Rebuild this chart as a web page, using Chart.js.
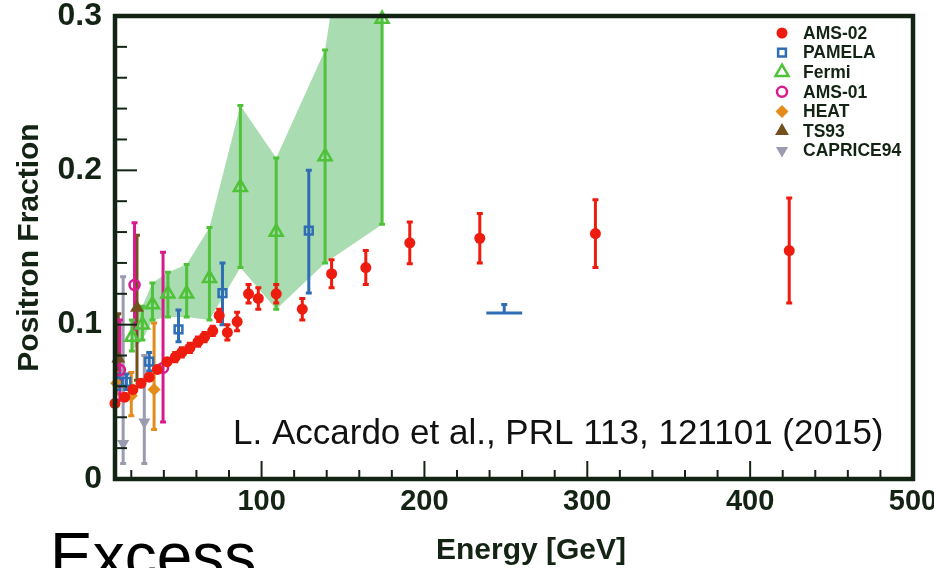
<!DOCTYPE html>
<html>
<head>
<meta charset="utf-8">
<title>Positron Fraction</title>
<script src="https://cdn.jsdelivr.net/npm/chart.js@4.4.1/dist/chart.umd.min.js"></script>
<style>
  html, body { margin: 0; padding: 0; background: #fff; }
  #wrap { position: relative; width: 934px; height: 568px; overflow: hidden; }
  #excess { position: absolute; left: 50px; top: 524px; font: 64px "Liberation Sans", Arial, sans-serif; line-height: 1; color: #000; }
</style>
</head>
<body>
<div id="wrap">
  <canvas id="posChart" width="934" height="568"></canvas>
  <div id="excess">Excess</div>
</div>
<script>
// axis ticks
const xMajorTicks = [100, 200, 300, 400, 500];
const yMajorTicks = [0, 0.1, 0.2, 0.3];
const yTickLabels = ['0', '0.1', '0.2', '0.3'];

// AMS-02
const amsE   = [10, 16, 21, 26, 31, 36, 42, 47, 51, 56, 61, 65, 70, 74, 79, 85, 92, 98, 109, 125, 143, 164, 191, 234, 305, 424];
const amsY   = [0.049, 0.053, 0.058, 0.062, 0.066, 0.071, 0.076, 0.079, 0.082, 0.085, 0.089, 0.092, 0.096, 0.106, 0.095, 0.102, 0.120, 0.117, 0.120, 0.110, 0.133, 0.137, 0.153, 0.156, 0.159, 0.148];
const amsErr = [0.002, 0.002, 0.002, 0.002, 0.002, 0.002, 0.002, 0.003, 0.003, 0.003, 0.003, 0.003, 0.003, 0.004, 0.005, 0.006, 0.006, 0.007, 0.006, 0.007, 0.009, 0.011, 0.0135, 0.016, 0.022, 0.034];

// PAMELA
const pamE  = [12, 17, 31, 49, 76, 129];
const pamY  = [0.063, 0.063, 0.076, 0.097, 0.1205, 0.161];
const pamLo = [0.058, 0.058, 0.070, 0.089, 0.100, 0.1205];
const pamHi = [0.068, 0.068, 0.082, 0.1095, 0.140, 0.200];
// PAMELA, last bin (horizontal bar)
const pamLastE = [249], pamLastY = [0.1076], pamLastLo = [0.1076], pamLastHi = [0.113], pamLastXErr = [11];

// Fermi
const fermiE  = [20.4, 26.8, 33, 42.5, 54, 68, 87, 109, 139, 174];
const fermiY  = [0.092, 0.100, 0.113, 0.120, 0.120, 0.130, 0.189, 0.160, 0.209, 0.298];
const fermiLo = [0.083, 0.090, 0.103, 0.105, 0.105, 0.103, 0.137, 0.110, 0.140, 0.165];
const fermiHi = [0.103, 0.112, 0.127, 0.134, 0.139, 0.163, 0.242, 0.208, 0.278, 0.52];

// AMS-01
const ams01E  = [13, 22, 39.5];
const ams01Y  = [0.0706, 0.1257, 0.072];
const ams01Lo = [0.051, 0.097, 0.037];
const ams01Hi = [0.103, 0.166, 0.147];

// HEAT
const heatE  = [11, 20, 34];
const heatY  = [0.062, 0.054, 0.058];
const heatLo = [0.055, 0.041, 0.032];
const heatHi = [0.069, 0.069, 0.101];

// TS93
const tsE  = [12, 23.5];
const tsY  = [0.078, 0.111];
const tsLo = [0.070, 0.064];
const tsHi = [0.107, 0.158];

// CAPRICE94
const capE  = [15, 28];
const capY  = [0.023, 0.037];
const capLo = [0.010, 0.010];
const capHi = [0.131, 0.080];

const ink = '#142414';
const fontFamily = '"Liberation Sans", Arial, sans-serif';
const pts = (xs, ys) => xs.map((v, i) => ({ x: v, y: ys[i] }));

function drawMarker(ctx, style, x, y, r, rot) {
    ctx.beginPath();
    if (style === 'circle') {
        ctx.arc(x, y, r, 0, Math.PI * 2);
    } else if (style === 'rect') {
        const s = r * Math.SQRT1_2;
        ctx.rect(x - s, y - s, 2 * s, 2 * s);
    } else if (style === 'rectRot') {
        ctx.moveTo(x, y - r); ctx.lineTo(x + r, y); ctx.lineTo(x, y + r); ctx.lineTo(x - r, y); ctx.closePath();
    } else {
        const d = rot === 180 ? -1 : 1;
        ctx.moveTo(x, y - d * r);
        ctx.lineTo(x + r * 0.866, y + d * r * 0.5);
        ctx.lineTo(x - r * 0.866, y + d * r * 0.5);
        ctx.closePath();
    }
}

const decor = {
    id: 'decor',
    beforeDatasetsDraw(chart) {
        // error bars under the markers
        const { ctx, chartArea: a, scales: { x, y } } = chart;
        ctx.save();
        ctx.beginPath();
        ctx.rect(a.left, a.top, a.right - a.left, a.bottom - a.top);
        ctx.clip();
        chart.data.datasets.slice().reverse().forEach(ds => {
            if (!ds.errLo) return;
            ctx.strokeStyle = ds.errColor;
            ctx.lineWidth = 3;
            ds.data.forEach((p, i) => {
                const px = x.getPixelForValue(p.x);
                const lo = y.getPixelForValue(ds.errLo[i]);
                const hi = y.getPixelForValue(ds.errHi[i]);
                ctx.beginPath();
                ctx.moveTo(px, lo); ctx.lineTo(px, hi);
                ctx.moveTo(px - 3, hi); ctx.lineTo(px + 3, hi);
                if (ds.errLo[i] !== p.y) { ctx.moveTo(px - 3, lo); ctx.lineTo(px + 3, lo); }
                if (ds.xErr) {
                    const py = y.getPixelForValue(p.y);
                    ctx.moveTo(x.getPixelForValue(p.x - ds.xErr[i]), py);
                    ctx.lineTo(x.getPixelForValue(p.x + ds.xErr[i]), py);
                }
                ctx.stroke();
            });
        });
        ctx.restore();
    },
    afterDatasetsDraw(chart) {
        const { ctx, chartArea: a, scales: { x, y } } = chart;
        ctx.save();
        // inward ticks
        ctx.strokeStyle = ink;
        ctx.lineWidth = 2;
        x.ticks.forEach(t => {
            const px = x.getPixelForValue(t.value);
            const len = xMajorTicks.includes(t.value) ? 18 : 9;
            ctx.beginPath(); ctx.moveTo(px, a.bottom); ctx.lineTo(px, a.bottom - len); ctx.stroke();
        });
        y.ticks.forEach(t => {
            const py = y.getPixelForValue(t.value);
            const len = yMajorTicks.includes(t.value) ? 22 : 12;
            ctx.beginPath(); ctx.moveTo(a.left, py); ctx.lineTo(a.left + len, py); ctx.stroke();
        });
        // frame
        ctx.lineWidth = 4.5;
        ctx.strokeRect(a.left, a.top, a.right - a.left, a.bottom - a.top);

        // legend
        let ly = a.top + 17;
        chart.data.datasets.forEach(ds => {
            if (!ds.inLegend) return;
            const mx = a.right - 131;
            drawMarker(ctx, ds.pointStyle, mx, ly, ds.legendRadius, ds.rotation);
            if (ds.backgroundColor === 'rgba(0,0,0,0)') {
                ctx.lineWidth = 2.5; ctx.strokeStyle = ds.borderColor; ctx.stroke();
            } else {
                ctx.fillStyle = ds.backgroundColor; ctx.fill();
            }
            ctx.fillStyle = ink;
            ctx.font = 'bold 17.5px ' + fontFamily;
            ctx.textBaseline = 'middle';
            ctx.textAlign = 'left';
            ctx.fillText(ds.label, a.right - 110, ly + 1);
            ly += 19.6;
        });

        // x axis title, sits a little right of the plot centre
        ctx.fillStyle = ink;
        ctx.font = 'bold 30px ' + fontFamily;
        ctx.textAlign = 'center';
        ctx.textBaseline = 'middle';
        ctx.fillText('Energy [GeV]', (a.left + a.right) / 2 + 17, a.bottom + 72);

        // reference note
        ctx.fillStyle = '#111';
        ctx.font = '35px ' + fontFamily;
        ctx.textAlign = 'left';
        ctx.textBaseline = 'alphabetic';
        ctx.fillText('L. Accardo et al., PRL 113, 121101 (2015)', a.left + 118, a.bottom - 35);
        ctx.restore();
    }
};

function series(label, xs, ys, lo, hi, color, style, radius, open, extra) {
    return Object.assign({
        label: label,
        data: pts(xs, ys),
        errLo: lo,
        errHi: hi,
        errColor: color,
        showLine: false,
        pointStyle: style,
        pointRadius: radius,
        pointHoverRadius: radius,
        borderColor: color,
        backgroundColor: open ? 'rgba(0,0,0,0)' : color,
        pointBorderWidth: open ? 2.5 : 0,
        inLegend: true,
        legendRadius: radius,
        clip: false
    }, extra || {});
}

const ctx = document.getElementById('posChart').getContext('2d');

new Chart(ctx, {
    type: 'line',
    data: {
        // index 0 is drawn on top
        datasets: [
            series('AMS-02', amsE, amsY, amsE.map((v, i) => amsY[i] - amsErr[i]), amsE.map((v, i) => amsY[i] + amsErr[i]), '#ee1c0e', 'circle', 5.5, false),
            series('PAMELA', pamE, pamY, pamLo, pamHi, '#2f6db5', 'rect', 5.5, true),
            series('PAMELA', pamLastE, pamLastY, pamLastLo, pamLastHi, '#2f6db5', 'rect', 0, true, { xErr: pamLastXErr, inLegend: false }),
            series('Fermi', fermiE, fermiY, fermiLo, fermiHi, '#4fc23a', 'triangle', 7.5, true),
            series('AMS-01', ams01E, ams01Y, ams01Lo, ams01Hi, '#d81b8c', 'circle', 5, true),
            series('HEAT', heatE, heatY, heatLo, heatHi, '#e38c1c', 'rectRot', 6.5, false),
            series('TS93', tsE, tsY, tsLo, tsHi, '#74501f', 'triangle', 8, false),
            series('CAPRICE94', capE, capY, capLo, capHi, '#9b9bb0', 'triangle', 7, false, { rotation: 180 }),
            // Fermi band
            { label: 'band lo', data: pts(fermiE, fermiLo), borderWidth: 0, pointRadius: 0, fill: '+1', backgroundColor: '#a9dcb0', tension: 0 },
            { label: 'band hi', data: pts(fermiE, fermiHi), borderWidth: 0, pointRadius: 0, fill: false, tension: 0 }
        ]
    },
    options: {
        responsive: false,
        animation: false,
        events: [],
        layout: { padding: { left: 0, right: 21, top: 16, bottom: 0 } },
        plugins: {
            legend: { display: false },
            tooltip: { enabled: false },
            filler: { drawTime: 'beforeDatasetsDraw' }
        },
        scales: {
            x: {
                type: 'linear',
                min: 10,
                max: 500,
                grid: { display: false, drawTicks: false },
                border: { display: false },
                afterBuildTicks: s => {
                    const t = [];
                    for (let v = 20; v <= 500; v += 20) t.push({ value: v });
                    s.ticks = t;
                },
                afterFit: s => { s.height = 89; s.paddingLeft = 0; s.paddingRight = 0; },
                ticks: {
                    autoSkip: false,
                    maxRotation: 0,
                    padding: 6,
                    color: ink,
                    font: { family: fontFamily, size: 29, weight: 'bold' },
                    callback: v => xMajorTicks.includes(v) ? String(v) : ''
                }
            },
            y: {
                min: 0,
                max: 0.3,
                grid: { display: false, drawTicks: false },
                border: { display: false },
                afterBuildTicks: s => {
                    const t = [];
                    for (let i = 0; i <= 15; i++) t.push({ value: i * 2 / 100 });
                    s.ticks = t;
                },
                afterFit: s => { s.width = 115; s.paddingTop = 0; s.paddingBottom = 0; },
                ticks: {
                    autoSkip: false,
                    padding: 13,
                    color: ink,
                    font: { family: fontFamily, size: 32, weight: 'bold' },
                    callback: v => {
                        const k = yMajorTicks.indexOf(v);
                        return k >= 0 ? yTickLabels[k] : '';
                    }
                },
                title: {
                    display: true,
                    text: 'Positron Fraction',
                    color: ink,
                    padding: { top: 12, bottom: 0 },
                    font: { family: fontFamily, size: 30, weight: 'bold' }
                }
            }
        }
    },
    plugins: [decor]
});
</script>
</body>
</html>
